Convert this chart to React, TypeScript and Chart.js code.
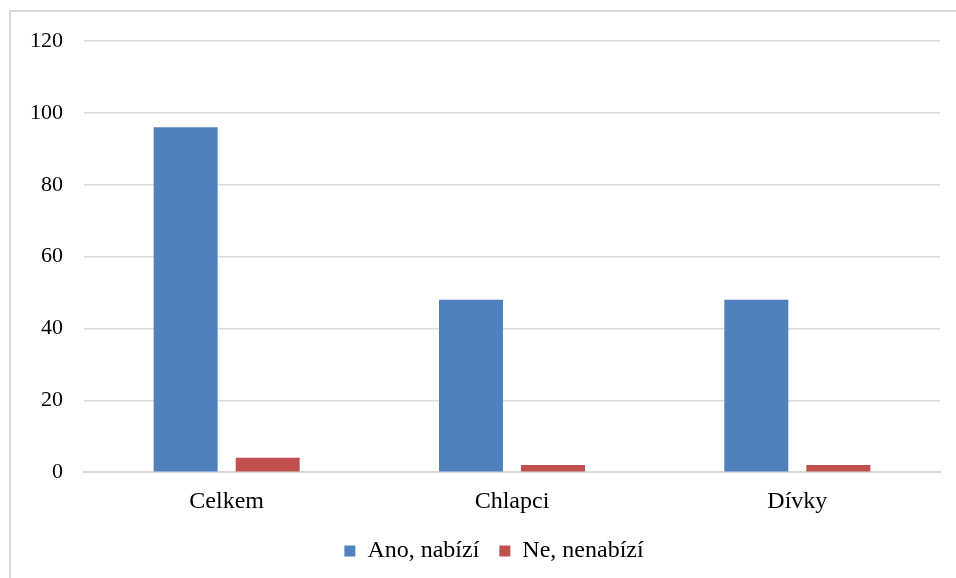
import React, { useEffect, useRef } from "react";
import { Chart, registerables } from "chart.js";

Chart.register(...registerables);

const categories = ["Celkem", "Chlapci", "Dívky"];
const anoValues = [96, 48, 48];
const neValues = [4, 2, 2];
const seriesNames = ["Ano, nabízí", "Ne, nenabízí"];
const yTicks = [0, 20, 40, 60, 80, 100, 120];

const FONT = "'Liberation Serif', 'Times New Roman', serif";

// Legend row is centred under the plot area rather than the whole canvas.
const legendOffset = {
  id: "legendOffset",
  afterLayout(chart: any) {
    if (chart.legend) chart.legend.left += 38;
  },
};

export default function App() {
  const canvasRef = useRef<HTMLCanvasElement | null>(null);

  useEffect(() => {
    const ctx = canvasRef.current;
    if (!ctx) return;
    const chart = new Chart(ctx, {
      type: "bar",
      data: {
        labels: categories,
        datasets: [
          {
            label: seriesNames[0],
            data: anoValues,
            backgroundColor: "#4f81bd",
            categoryPercentage: 0.575,
            barPercentage: 0.78,
          },
          {
            label: seriesNames[1],
            data: neValues,
            backgroundColor: "#c0504d",
            categoryPercentage: 0.575,
            barPercentage: 0.78,
          },
        ],
      },
      plugins: [legendOffset],
      options: {
        animation: false,
        responsive: false,
        devicePixelRatio: 1,
        layout: { padding: { left: 10, right: 16, top: 41, bottom: 5 } },
        font: { family: FONT, size: 22 },
        plugins: {
          tooltip: { enabled: false },
          legend: {
            position: "bottom",
            labels: {
              color: "#000",
              font: { family: FONT, size: 24 },
              boxWidth: 11,
              boxHeight: 11,
              padding: 20,
            },
          },
        },
        scales: {
          x: {
            grid: { display: false, drawTicks: false },
            border: { display: true, color: "#d9d9d9", width: 2 },
            ticks: { color: "#000", font: { family: FONT, size: 24 }, padding: 15 },
            afterFit: (scale: any) => {
              scale.height = scale.height - 12;
            },
          },
          y: {
            min: 0,
            max: 120,
            afterBuildTicks: (scale: any) => {
              scale.ticks = yTicks.map((v) => ({ value: v }));
            },
            afterFit: (scale: any) => {
              scale.width = 74;
            },
            grid: { color: "#d9d9d9", lineWidth: 1.5, drawTicks: false },
            border: { display: false },
            ticks: { color: "#000", font: { family: FONT, size: 22 }, padding: 21 },
          },
        },
      },
    });
    return () => chart.destroy();
  }, []);

  return (
    <div
      style={{
        position: "fixed",
        left: 0,
        top: 0,
        width: 956,
        height: 578,
        background: "#fff",
        overflow: "hidden",
      }}
    >
      <div
        style={{
          position: "absolute",
          left: 9,
          top: 10,
          width: 960,
          height: 580,
          borderLeft: "2px solid #d9d9d9",
          borderTop: "2px solid #d9d9d9",
          boxSizing: "border-box",
        }}
      />
      <canvas ref={canvasRef} width={956} height={578} style={{ position: "absolute", left: 0, top: 0 }} />
    </div>
  );
}
